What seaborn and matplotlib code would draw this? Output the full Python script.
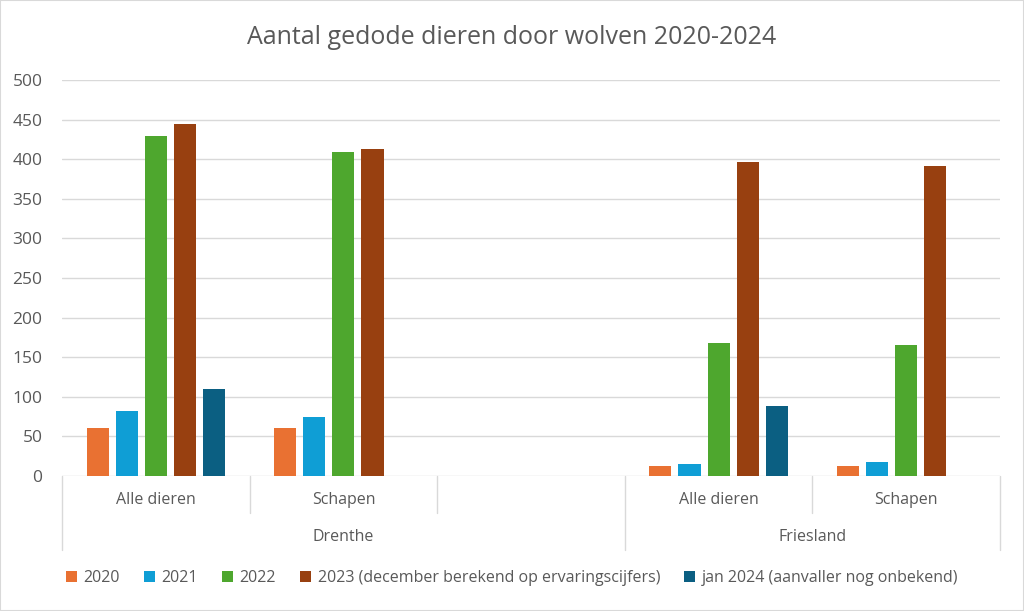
import numpy as np
import pandas as pd
import seaborn as sns
import matplotlib.pyplot as plt
from matplotlib.patches import Rectangle

# ---- data ----
regions = ["Drenthe", "Drenthe", "Drenthe", "Friesland", "Friesland"]
animals = ["Alle dieren", "Schapen", "", "Alle dieren", "Schapen"]
series = ["2020", "2021", "2022",
          "2023 (december berekend op ervaringscijfers)",
          "jan 2024 (aanvaller nog onbekend)"]
nan = np.nan
v2020 = [60, 60, nan, 13, 13]
v2021 = [82, 75, nan, 15, 18]
v2022 = [429, 409, nan, 168, 165]
v2023 = [445, 413, nan, 397, 391]
vjan2024 = [110, nan, nan, 88, nan]
colors = ["#E97132", "#0F9ED5", "#4EA72E", "#984010", "#0B5F82"]

values = [v2020, v2021, v2022, v2023, vjan2024]
slots = [f"{r}|{a}|{i}" for i, (r, a) in enumerate(zip(regions, animals))]
rows = []
for s, vals in zip(series, values):
    for slot, v in zip(slots, vals):
        rows.append({"slot": slot, "series": s, "value": v})
df = pd.DataFrame(rows)

sns.set_theme(style="white")
plt.rcParams['font.family'] = ['Open Sans', 'DejaVu Sans']
grey = "#595959"

fig = plt.figure(figsize=(10.24, 6.11), dpi=100)
W, H = 1024, 611
ax = fig.add_axes([62 / W, (H - 476) / H, (1000 - 62) / W, (476 - 80) / H])

sns.barplot(data=df, x="slot", y="value", hue="series", order=slots,
            hue_order=series, palette=colors, width=0.775, gap=0.24,
            errorbar=None, linewidth=0, saturation=1, ax=ax)

handles, labels = ax.get_legend_handles_labels()
if ax.legend_ is not None:
    ax.legend_.remove()

ax.set_ylim(0, 500)
ax.set_xlim(-0.5, len(slots) - 0.5)
ax.set_yticks(range(0, 501, 50))
ax.yaxis.grid(True, color="#D9D9D9", linewidth=1)
ax.set_axisbelow(True)
for sp in ax.spines.values():
    sp.set_visible(False)
ax.set_xticks([])
ax.set_xlabel("")
ax.set_ylabel("")
ax.tick_params(axis="y", length=0, pad=14, labelsize=12.5, labelcolor=grey)

# hierarchical x labels
tr = ax.get_xaxis_transform()
axh = 476 - 80
for i, a in enumerate(animals):
    if a:
        ax.text(i, -24 / axh, a, transform=tr, ha="center", va="center",
                fontsize=11.5, color=grey, clip_on=False)
groups = {}
for i, r in enumerate(regions):
    groups.setdefault(r, []).append(i)
for r, idx in groups.items():
    ax.text((idx[0] + idx[-1]) / 2, -61 / axh, r, transform=tr, ha="center",
            va="center", fontsize=11.5, color=grey, clip_on=False)

inner = [0.5, 1.5, 3.5]
outer = [-0.5, 2.5, 4.5]
for x in inner:
    ax.plot([x, x], [0, -37 / axh], transform=tr, color="#D9D9D9", lw=1, clip_on=False)
for x in outer:
    ax.plot([x, x], [0, -74 / axh], transform=tr, color="#D9D9D9", lw=1, clip_on=False)

fig.suptitle("Aantal gedode dieren door wolven 2020-2024", y=1 - 37 / H,
             va="center", fontsize=18, color=grey)

fig.legend(handles, labels, loc="center", bbox_to_anchor=(0.5, 1 - 578 / H),
           ncol=5, frameon=False, handlelength=0.7, handleheight=0.7,
           handletextpad=0.4, columnspacing=1.5, fontsize=11.5,
           labelcolor=grey)

fig.patches.append(Rectangle((0, 0), 1, 1, transform=fig.transFigure,
                             fill=False, edgecolor="#D9D9D9", lw=1.5))

fig.savefig("out.png", dpi=100)
